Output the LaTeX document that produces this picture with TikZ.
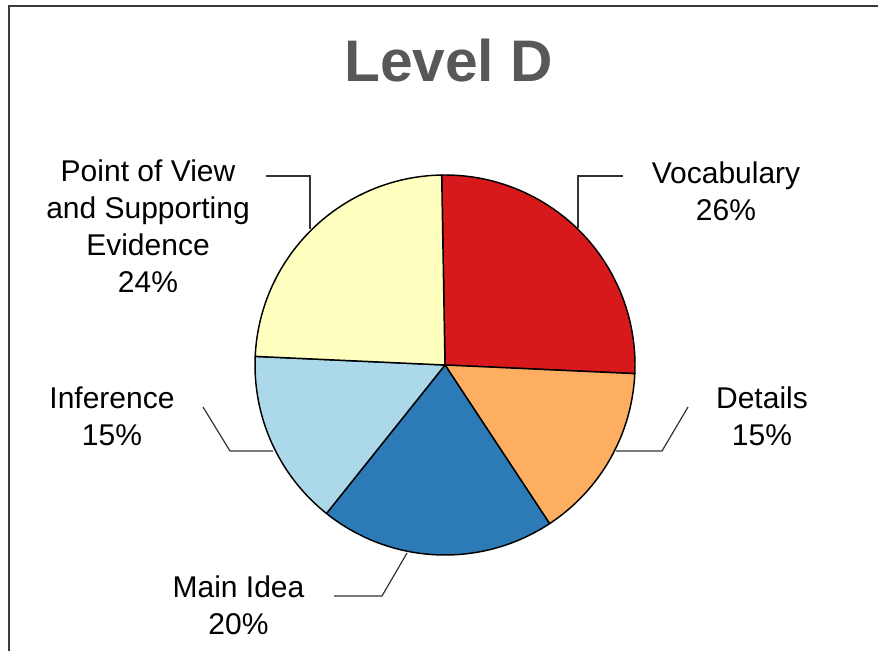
\documentclass[tikz,border=0pt]{standalone}
\usepackage{fontspec}
\setmainfont{Liberation Sans}
\definecolor{vocabred}{HTML}{D7191C}
\definecolor{detailorange}{HTML}{FDAE61}
\definecolor{ideablue}{HTML}{2C7BB6}
\definecolor{inferblue}{HTML}{ABD9E9}
\definecolor{viewyellow}{HTML}{FFFFBF}
\definecolor{titlegray}{HTML}{58585A}
\definecolor{framegray}{HTML}{3A3A3A}
\definecolor{leadergray}{HTML}{333333}

\tikzset{
	slice/.style={draw=black, line width=1.1pt, line join=round},
	leader/.style={draw=leadergray, line width=0.9pt},
	piecetext/.style={align=center, inner sep=0pt,
		font=\fontsize{22.5}{27.75}\selectfont},
}

\begin{document}
\begin{tikzpicture}[x=0.75pt, y=0.75pt]
		\useasboundingbox (0, 0) rectangle (878, 651);
		\draw[framegray, line width=1.7pt] (9, 0) |- (878, 645);
		\node[titlegray, anchor=base, font=\fontsize{44}{50}\selectfont\bfseries]
		(title) at (448.5, 569) {Level D};
		% pie
		\coordinate (c) at (445, 286);
		\foreach \from/\to/\col in {91/-2.6/vocabred, -2.6/-56.6/detailorange,
			-56.6/-128.6/ideablue, -128.6/-182.6/inferblue, -182.6/-269/viewyellow}
		\filldraw[slice, fill=\col] (c) -- ++(\from:190)
		arc[start angle=\from, end angle=\to, radius=190] -- cycle;
		% labels
		\node[piecetext] (vocab) at (726, 460) {Vocabulary\\26\%};
		\node[piecetext] (details) at (762, 235) {Details\\15\%};
		\node[piecetext] (mainidea) at (238.5, 46) {Main Idea\\20\%};
		\node[piecetext] (inference) at (112, 235) {Inference\\15\%};
		\node[piecetext] (pov) at (148, 424.5)
		{Point of View\\and Supporting\\Evidence\\24\%};
		% leaders
		\coordinate (vocabedge) at (578, 423);
		\coordinate (vocabend) at (623, 475);
		\coordinate (detailsedge) at (616, 200);
		\coordinate (detailsknee) at (662, 200);
		\coordinate (detailsend) at (688, 244);
		\coordinate (ideaedge) at (407, 98);
		\coordinate (ideaknee) at (382, 55);
		\coordinate (ideaend) at (334, 55);
		\coordinate (inferedge) at (273, 200);
		\coordinate (inferknee) at (230, 200);
		\coordinate (inferend) at (203, 244);
		\coordinate (povedge) at (310, 422);
		\coordinate (povend) at (266, 475);
		\draw[leader] (vocabedge) |- (vocabend);
		\draw[leader] (detailsedge) -- (detailsknee) -- (detailsend);
		\draw[leader] (ideaedge) -- (ideaknee) -- (ideaend);
		\draw[leader] (inferedge) -- (inferknee) -- (inferend);
		\draw[leader] (povedge) |- (povend);
	\end{tikzpicture}
\end{document}
